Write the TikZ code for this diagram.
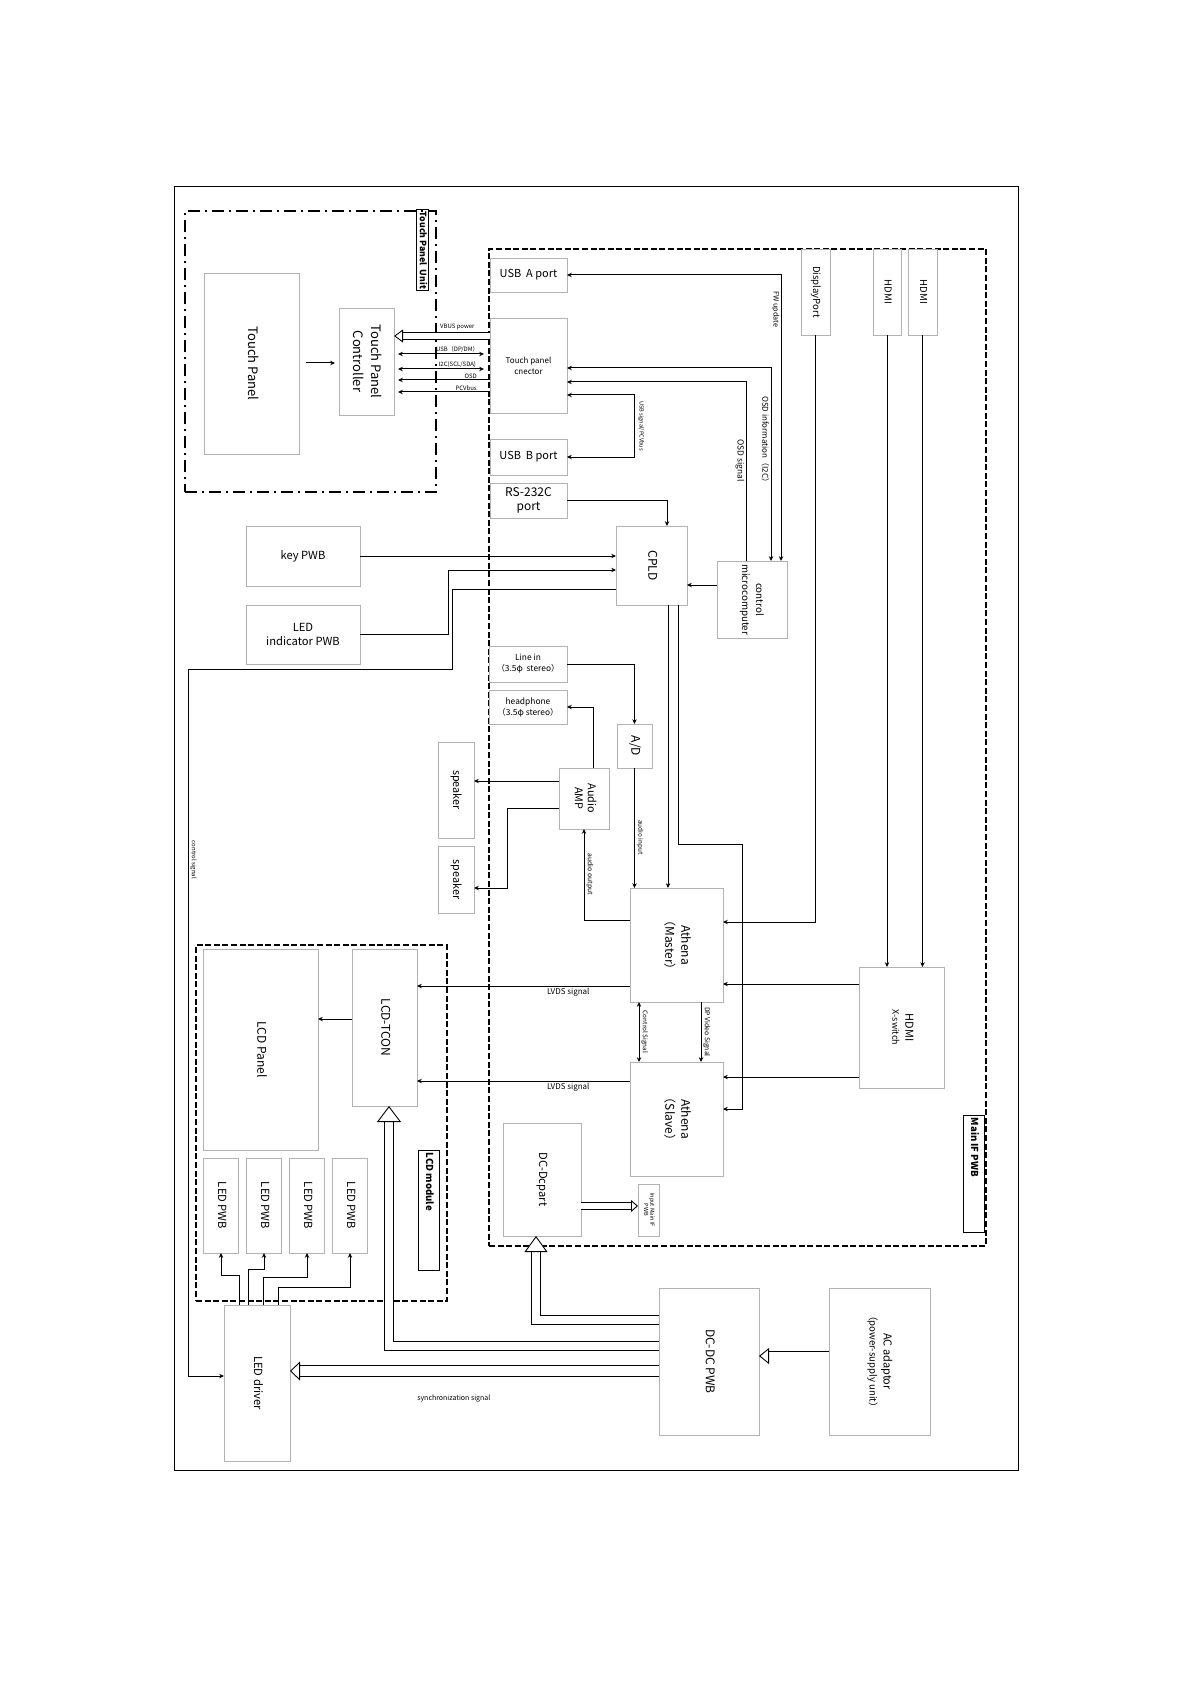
\documentclass[tikz,border=0pt]{standalone}
\usepackage{fontspec}
\setmainfont{Noto Sans CJK JP}
\usepackage{graphicx}
\usetikzlibrary{arrows.meta, calc}

\newcommand{\vt}[1]{\rotatebox{-90}{\begin{tabular}{@{}c@{}}#1\end{tabular}}}
\newcommand{\fs}[2]{\fontsize{#1}{#2}\selectfont}

\begin{document}
\begin{tikzpicture}[
  x=0.5pt, y=-0.5pt,
  box/.style={draw=gray!60, line width=0.45pt, inner sep=0pt, outer sep=0pt,
              align=center, font=\fs{6}{8}},
  sz/.style 2 args={minimum width=#1*0.5pt, minimum height=#2*0.5pt},
  tagbox/.style={draw, line width=0.5pt, inner sep=0pt, outer sep=0pt,
                 font=\bfseries\fs{4.4}{5}},
  tagtext/.style={label={[anchor=north, inner sep=1.2pt, font=\bfseries\fs{4.8}{5}]north:\vt{#1}}},
  unit/.style={draw, line width=1.2pt, inner sep=0pt,
               dash pattern=on 6pt off 2.5pt on 1pt off 2.5pt},   % touch panel unit
  board/.style={draw, line width=1.25pt, inner sep=0pt,
                dash pattern=on 3pt off 1.3pt},                    % PWB outlines
  sig/.style={-{Stealth[length=2.4pt, width=2.2pt]}, line width=0.5pt},
  bisig/.style={{Stealth[length=2.4pt, width=2.2pt]}-{Stealth[length=2.4pt, width=2.2pt]},
                line width=0.5pt},
  hollow/.style n args={3}{draw, line width=0.45pt, double=white, double distance=#1,
                -{Triangle[fill=white, length=#2, width=#3, line width=0.45pt]}},
  lbl/.style={font=\fs{3.4}{4}, inner sep=0.6pt},
]
  \useasboundingbox (0,0) rectangle (1190,1684);
  \draw[line width=0.5pt] (174,187) rectangle (1018,1470);

  % ---- Touch panel unit ----
  \node[unit, sz={251}{281}] (tpu) at (310.5,351.5) {};
  \node[tagbox, sz={12}{81}] (tpulbl) at (422,250.5) {\vt{Touch Panel\ \ Unit}};
  \node[box, sz={95}{181}, font=\fs{6.5}{8}] (tp)  at (251.5,363.5) {\vt{Touch Panel}};
  \node[box, sz={55}{107}, font=\fs{6.5}{9}] (tpc) at (366.5,361.5) {\vt{Touch Panel\\Controller}};

  % ---- Main IF PWB ----
  \node[board, sz={497}{997}] (mainif) at (737.5,747.5) {};
  \node[tagbox, sz={21}{117}, tagtext={Main IF PWB}] (mainlbl) at (973.5,1173.5) {};
  \node[box, sz={77}{34}, font=\fs{5.5}{7}] (usba) at (528.5,275)   {USB\ \ A port};
  \node[box, sz={77}{95}, font=\fs{4}{5.5}] (tpcn) at (528.5,365.5) {Touch panel\\cnector};
  \node[box, sz={77}{36}, font=\fs{5.5}{7}] (usbb) at (528.5,457)   {USB\ \ B port};
  \node[box, sz={77}{35}, font=\fs{6}{7}]   (rs)   at (528.5,500.5) {RS-232C\\port};
  \node[box, sz={29}{86}, font=\fs{4.8}{6}] (dp)    at (815.5,292) {\vt{DisplayPort}};
  \node[box, sz={28}{86}, font=\fs{4.8}{6}] (hdmia) at (887,292)   {\vt{HDMI}};
  \node[box, sz={29}{86}, font=\fs{4.8}{6}] (hdmib) at (922.5,292) {\vt{HDMI}};
  \node[box, sz={71}{79}] (cpld) at (651.5,565.5) {\vt{CPLD}};
  \node[box, sz={70}{77}, font=\fs{4.9}{7}] (mcu) at (752,599.5) {\vt{control\\microcomputer}};
  \node[box, sz={78}{36}, font=\fs{4.2}{5.5}] (linein) at (528,664) {Line in\\（3.5φ\ \ stereo）};
  \node[box, sz={78}{34}, font=\fs{4.2}{5.5}] (hp)     at (528,707) {headphone\\（3.5φ stereo）};
  \node[box, sz={35}{44}] (ad) at (634.5,746) {\vt{A/D}};
  \node[box, sz={50}{61}, font=\fs{5.4}{6.5}] (amp) at (584,798.5) {\vt{Audio\\AMP}};
  \node[box, sz={93}{114}] (master) at (676.5,945)  {\vt{Athena\\（Master）}};
  \node[box, sz={93}{114}] (slave)  at (676.5,1119) {\vt{Athena\\（Slave）}};
  \node[box, sz={85}{121}, font=\fs{5.5}{6.5}] (xsw) at (901.5,1027.5) {\vt{HDMI\\{\fs{4.5}{5}X-switch}}};
  \node[box, sz={78}{113}, font=\fs{5.6}{7}] (dcpart) at (542,1179.5) {\vt{DC-Dcpart}};
  \node[box, sz={21}{52}, font=\fs{2.8}{3.2}] (inmain) at (648.5,1210) {\vt{Input Main IF\\PWB}};

  % ---- outside the boards ----
  \node[box, sz={114}{60}, font=\fs{5.6}{7}] (key)    at (303,556)   {key PWB};
  \node[box, sz={114}{59}, font=\fs{5.6}{7}] (ledind) at (303,634.5) {LED\\indicator PWB};
  \node[box, sz={36}{96}, font=\fs{5.4}{7}] (spka) at (456,790)   {\vt{speaker}};
  \node[box, sz={36}{67}, font=\fs{5.4}{7}] (spkb) at (456,879.5) {\vt{speaker}};
  \node[box, sz={100}{147}] (dcdc) at (709,1361.5) {\vt{DC-DC PWB}};
  \node[box, sz={101}{147}, font=\fs{5.5}{7}] (ac) at (879.5,1361.5)
       {\vt{AC adaptor\\{\fs{4.8}{6}（power-supply unit）}}};
  \node[box, sz={66}{156}, font=\fs{5.6}{7}] (leddrv) at (257,1383) {\vt{LED driver}};

  % ---- LCD module ----
  \node[board, sz={251}{356}] (lcdmod) at (321.5,1123) {};
  \node[box, sz={115}{201}] (lcd)  at (260.5,1049.5) {\vt{LCD Panel}};
  \node[box, sz={65}{157}]  (tcon) at (384.5,1027.5) {\vt{LCD-TCON}};
  \foreach \i/\cx in {1/221, 2/264, 3/307, 4/350}
    \node[box, sz={35}{95}, font=\fs{5.6}{7}] (lp\i) at (\cx,1205.5) {\vt{LED PWB}};
  \node[tagbox, sz={21}{120}, tagtext={LCD module}] (lcdlbl) at (428.5,1210) {};

  % ==== touch panel signals ====
  \draw[sig, shorten <=3.5pt, shorten >=2pt] (tp.east |- 0,363) -- (tpc.west |- 0,363);
  \draw[hollow={3.2pt}{4.5pt}{6.5pt}] (tpcn.west |- 0,336)
       -- node[lbl, font=\fs{3}{3.5}, above=2.2pt, pos=0.34] {VBUS power} (tpc.east |- 0,336);
  \draw[bisig, shorten <=2pt, shorten >=3pt] (tpc.east |- 0,354)
       -- node[lbl, font=\fs{3}{3.5}, above, pos=0.66] {USB（DP/DM）} (tpcn.west |- 0,354);
  \draw[bisig, shorten <=2pt, shorten >=3pt] (tpc.east |- 0,369)
       -- node[lbl, font=\fs{3}{3.5}, above, pos=0.66] {I2C(SCL/SDA)} (tpcn.west |- 0,369);
  \draw[sig, shorten >=2pt] (tpcn.west |- 0,380)
       -- node[lbl, font=\fs{3}{3.5}, anchor=south east, pos=0.12] {OSD} (tpc.east |- 0,380);
  \draw[sig, shorten >=2pt] (tpcn.west |- 0,392)
       -- node[lbl, font=\fs{3}{3.5}, anchor=south east, pos=0.12] {PCVbus} (tpc.east |- 0,392);

  % ==== ports <-> microcomputer / CPLD ====
  \draw[bisig] (usba.east) -| node[lbl, font=\fs{3.6}{4}, left, pos=0.56] {\vt{FW update}} (mcu.north -| 781,0);
  \draw[bisig] (tpcn.east |- 0,368) -| node[lbl, font=\fs{4}{4.5}, left, pos=0.69] {\vt{OSD information（I2C）}} (mcu.north -| 771,0);
  \draw[sig] (mcu.north -| 746,0) |- node[lbl, font=\fs{4.2}{4.5}, left, pos=0.28] {\vt{OSD signal}} (tpcn.east |- 0,382);
  \draw[bisig] (tpcn.east |- 0,395) -| (634,426) node[lbl, font=\fs{2.8}{3}, right=1pt] {\vt{USB signal/PCVbus}} |- (usbb.east);
  \draw[sig] (rs.east) -| (cpld.north -| 667,0);
  \draw[sig] (key.east) -- (key.east -| cpld.west);
  \draw[sig] (ledind.east) -| (448,570) -- (cpld.west |- 0,570);
  \draw[sig] (cpld.west |- 0,589) -| (452,669) -- (188,669)
       -- node[lbl, font=\fs{3}{3.5}, right, pos=0.27] {\vt{control signal}} (188,1376) -- (leddrv.west |- 0,1376);
  \draw[sig] (mcu.west |- 0,585) -- (cpld.east |- 0,585);

  % ==== video path ====
  \draw[sig] (cpld.south -| 668,0) -- (master.north -| 668,0);
  \draw[sig] (cpld.south -| 678,0) |- (742,844) |- (slave.east |- 0,1109);
  \draw[sig] (dp.south) |- (master.east |- 0,922);
  \draw[sig] (hdmia.south) -- (hdmia.south |- xsw.north);
  \draw[sig] (hdmib.south) -- (hdmib.south |- xsw.north);
  \draw[sig] (xsw.west |- 0,984)  -- (master.east |- 0,984);
  \draw[sig] (xsw.west |- 0,1077) -- (slave.east |- 0,1077);
  \draw[bisig] (master.south -| 639,0) -- node[lbl, font=\fs{3.2}{3.5}, right] {\vt{Control Signal}} (slave.north -| 639,0);
  \draw[sig] (master.south -| 701,0) -- node[lbl, font=\fs{3.4}{3.5}, right] {\vt{DP Video Signal}} (slave.north -| 701,0);

  % ==== audio path ====
  \draw[sig] (linein.east) -| (ad.north);
  \draw[sig] (ad.south) -- node[lbl, font=\fs{3.2}{3.5}, right, pos=0.58] {\vt{audio input}} (ad.south |- master.north);
  \draw[sig] (amp.north -| 593,0) |- (hp.east);
  \draw[sig] (amp.west |- 0,781) -- (spka.east |- 0,781);
  \draw[sig] (amp.west |- 0,808) -| (507,888) -- (spkb.east |- 0,888);
  \draw[sig] (master.west |- 0,920) -| node[lbl, font=\fs{3.4}{3.5}, right, pos=0.75] {\vt{audio output}} (amp.south);

  % ==== LCD module ====
  \draw[sig] (master.west |- 0,986)  -- node[lbl, font=\fs{4}{4.5}, below, pos=0.29] {LVDS signal} (tcon.east |- 0,986);
  \draw[sig] (slave.west |- 0,1081) -- node[lbl, font=\fs{4}{4.5}, below, pos=0.29] {LVDS signal} (tcon.east |- 0,1081);
  \draw[sig] (tcon.west |- 0,1019) -- (lcd.east |- 0,1019);
  \foreach \sx/\by/\i in {239/1275/1, 248/1269/2, 263/1277/3, 278/1287/4}
    \draw[sig] (leddrv.north -| \sx,0) -- (\sx,\by) -| (lp\i.south);

  % ==== power ====
  \draw[hollow={3pt}{3.5pt}{6pt}]     (dcpart.east |- 0,1206) -- (inmain.west |- 0,1206);
  \draw[hollow={4.5pt}{5pt}{8pt}]     (ac.west |- 0,1356) -- (dcdc.east |- 0,1356);
  \draw[hollow={4.3pt}{8pt}{11.5pt}]  (dcdc.west |- 0,1320) -| (dcpart.south -| 536,0);
  \draw[hollow={3.8pt}{8pt}{12pt}]    (dcdc.west |- 0,1346) -| (tcon.south -| 389,0);
  \draw[hollow={5pt}{5pt}{9.5pt}]     (dcdc.west |- 0,1371)
       -- node[lbl, font=\fs{3.5}{4}, below=11pt, pos=0.556] {synchronization signal} (leddrv.east |- 0,1371);
\end{tikzpicture}
\end{document}
